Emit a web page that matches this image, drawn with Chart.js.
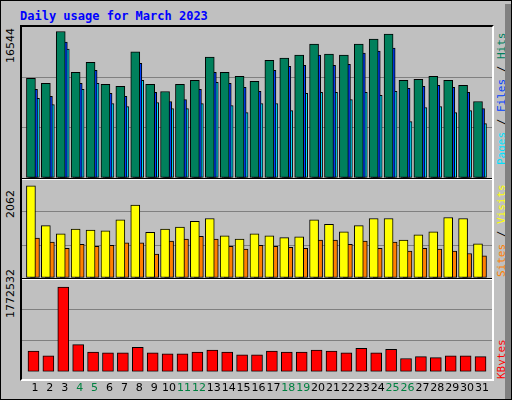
<!DOCTYPE html>
<html><head><meta charset="utf-8">
<script src="https://cdn.jsdelivr.net/npm/chart.js@4"></script>
<style>
body{margin:0;background:#fff;}
#wrap{position:relative;width:512px;height:400px;background:#c0c0c0;box-sizing:border-box;border:1px solid #000;}
#wrap:after{content:"";position:absolute;right:0;top:3px;width:6px;height:395px;background:#808080;}
.t{position:absolute;font-family:"DejaVu Sans Mono",monospace;font-size:11px;white-space:nowrap;}
.rot{transform-origin:0 0;transform:rotate(-90deg);}
canvas{position:absolute;}
.frame{position:absolute;border-top:2px solid #000;border-left:2px solid #000;border-right:2px solid #fff;border-bottom:2px solid #fff;box-sizing:border-box;}
</style></head><body>
<div id="wrap">
<div class="t" style="left:19px;top:8px;color:#0000ff;font-weight:bold;font-size:12px;">Daily usage for March 2023</div>
<div class="frame" style="left:19px;top:24px;width:474px;height:356px;"></div>
<canvas id="c1" style="left:21px;top:26px;"></canvas>
<canvas id="c2" style="left:21px;top:178px;"></canvas>
<canvas id="c3" style="left:21px;top:278px;"></canvas>
<div style="position:absolute;left:21px;top:177px;width:470px;height:1px;background:#000"></div>
<div style="position:absolute;left:21px;top:178px;width:470px;height:1px;background:#fff"></div>
<div style="position:absolute;left:21px;top:277px;width:470px;height:1px;background:#000"></div>
<div style="position:absolute;left:21px;top:278px;width:470px;height:1px;background:#fff"></div>
<div class="t rot" style="left:3px;top:62px;font-family:'DejaVu Sans';font-size:11px;">16544</div>
<div class="t rot" style="left:3px;top:217px;font-family:'DejaVu Sans';font-size:11px;">2062</div>
<div class="t rot" style="left:3px;top:317px;font-family:'DejaVu Sans';font-size:11px;">1772532</div>
<div class="t rot" style="left:494px;top:164px;"><span style="color:#00e0ff">Pages</span> / <span style="color:#0040ff">Files</span> / <span style="color:#00805c">Hits</span></div>
<div class="t rot" style="left:494px;top:276px;"><span style="color:#ff8000">Sites</span> / <span style="color:#ffff00">Visits</span></div>
<div class="t rot" style="left:494px;top:378px;color:#ff0000">KBytes</div>
</div>
<script>
const days=[1,2,3,4,5,6,7,8,9,10,11,12,13,14,15,16,17,18,19,20,21,22,23,24,25,26,27,28,29,30,31];
const weekend=[4,5,11,12,18,19,25,26];
const hits=[10910,10360,16050,11580,12680,10250,10030,13810,10250,9480,10250,10690,13240,11580,11140,10590,12900,13130,13460,14670,13570,13460,14670,15220,15770,10690,10810,11140,10690,10140,8380];
const files=[9710,8940,14890,10360,11800,9270,8940,12570,9380,8380,8600,9710,11580,10360,9930,9490,11800,12240,12350,13460,12350,12460,13680,13900,14230,9820,10030,10140,9930,9380,7610];
const pages=[8720,8050,14120,9710,10360,8160,7830,10690,8270,7610,7610,8160,10470,7940,7170,8160,8160,7390,9270,9380,9380,8600,9380,9050,9490,6180,7720,7830,7170,7390,5960];
const visits=[1920,1090,920,1020,1000,980,1210,1520,950,1020,1060,1180,1240,880,810,920,880,840,860,1210,1120,960,1090,1240,1240,790,900,960,1260,1240,710];
const sites=[830,750,620,700,660,680,730,730,500,770,810,870,810,660,600,680,660,640,620,790,790,700,770,620,750,560,620,600,560,510,460];
const kbytes=[395000,307000,1618000,519000,378000,360000,360000,467000,360000,343000,343000,378000,414000,378000,325000,325000,395000,378000,378000,414000,395000,360000,449000,360000,431000,254000,289000,272000,307000,307000,289000];
const maxHits=16544, maxVisits=2062, maxKB=1772532;

const X={type:'linear',min:0.13,max:31.67,display:false,offset:false};
function ds(vals,off,color,w){return{data:vals.map((v,i)=>({x:days[i]+off,y:v})),backgroundColor:color,borderColor:'#000',borderWidth:1,barThickness:w,grouped:false,borderSkipped:false};}
function Y(max){return{min:0,max:max,display:true,ticks:{display:false,stepSize:max/3},border:{display:false},grid:{color:(c)=>(c.tick.value>0&&c.tick.value<max*0.99)?'#808080':'rgba(0,0,0,0)',drawTicks:false,lineWidth:1}};}
function make(id,w,h,datasets,max,xs){
  const c=document.getElementById(id);c.width=w;c.height=h;c.style.width=w+'px';c.style.height=h+'px';
  return new Chart(c,{type:'bar',data:{datasets},options:{animation:false,responsive:false,maintainAspectRatio:false,devicePixelRatio:1,
    layout:{padding:0},plugins:{legend:{display:false},tooltip:{enabled:false}},scales:{x:xs||X,y:Y(max)}}});
}
make('c1',470,151,[ds(hits,-0.27,'#00805c',9),ds(files,-0.13,'#0040ff',9),ds(pages,0.0,'#00e0ff',9)],maxHits);
make('c2',470,99,[ds(visits,-0.27,'#ffff00',9),ds(sites,0.0,'#ff8000',9)],maxVisits);
make('c3',470,118,[ds(kbytes,-0.1,'#ff0000',11)],maxKB,{type:'linear',min:0.13,max:31.67,offset:false,
  grid:{display:false},border:{display:false},
  afterBuildTicks:(a)=>{a.ticks=days.map(d=>({value:d}));},
  ticks:{autoSkip:false,maxRotation:0,padding:2,font:{family:'DejaVu Sans',size:11},
    color:(c)=>weekend.includes(c.tick.value)?'#008040':'#000',
    callback:(v)=>String(v)}});
</script>
</body></html>
